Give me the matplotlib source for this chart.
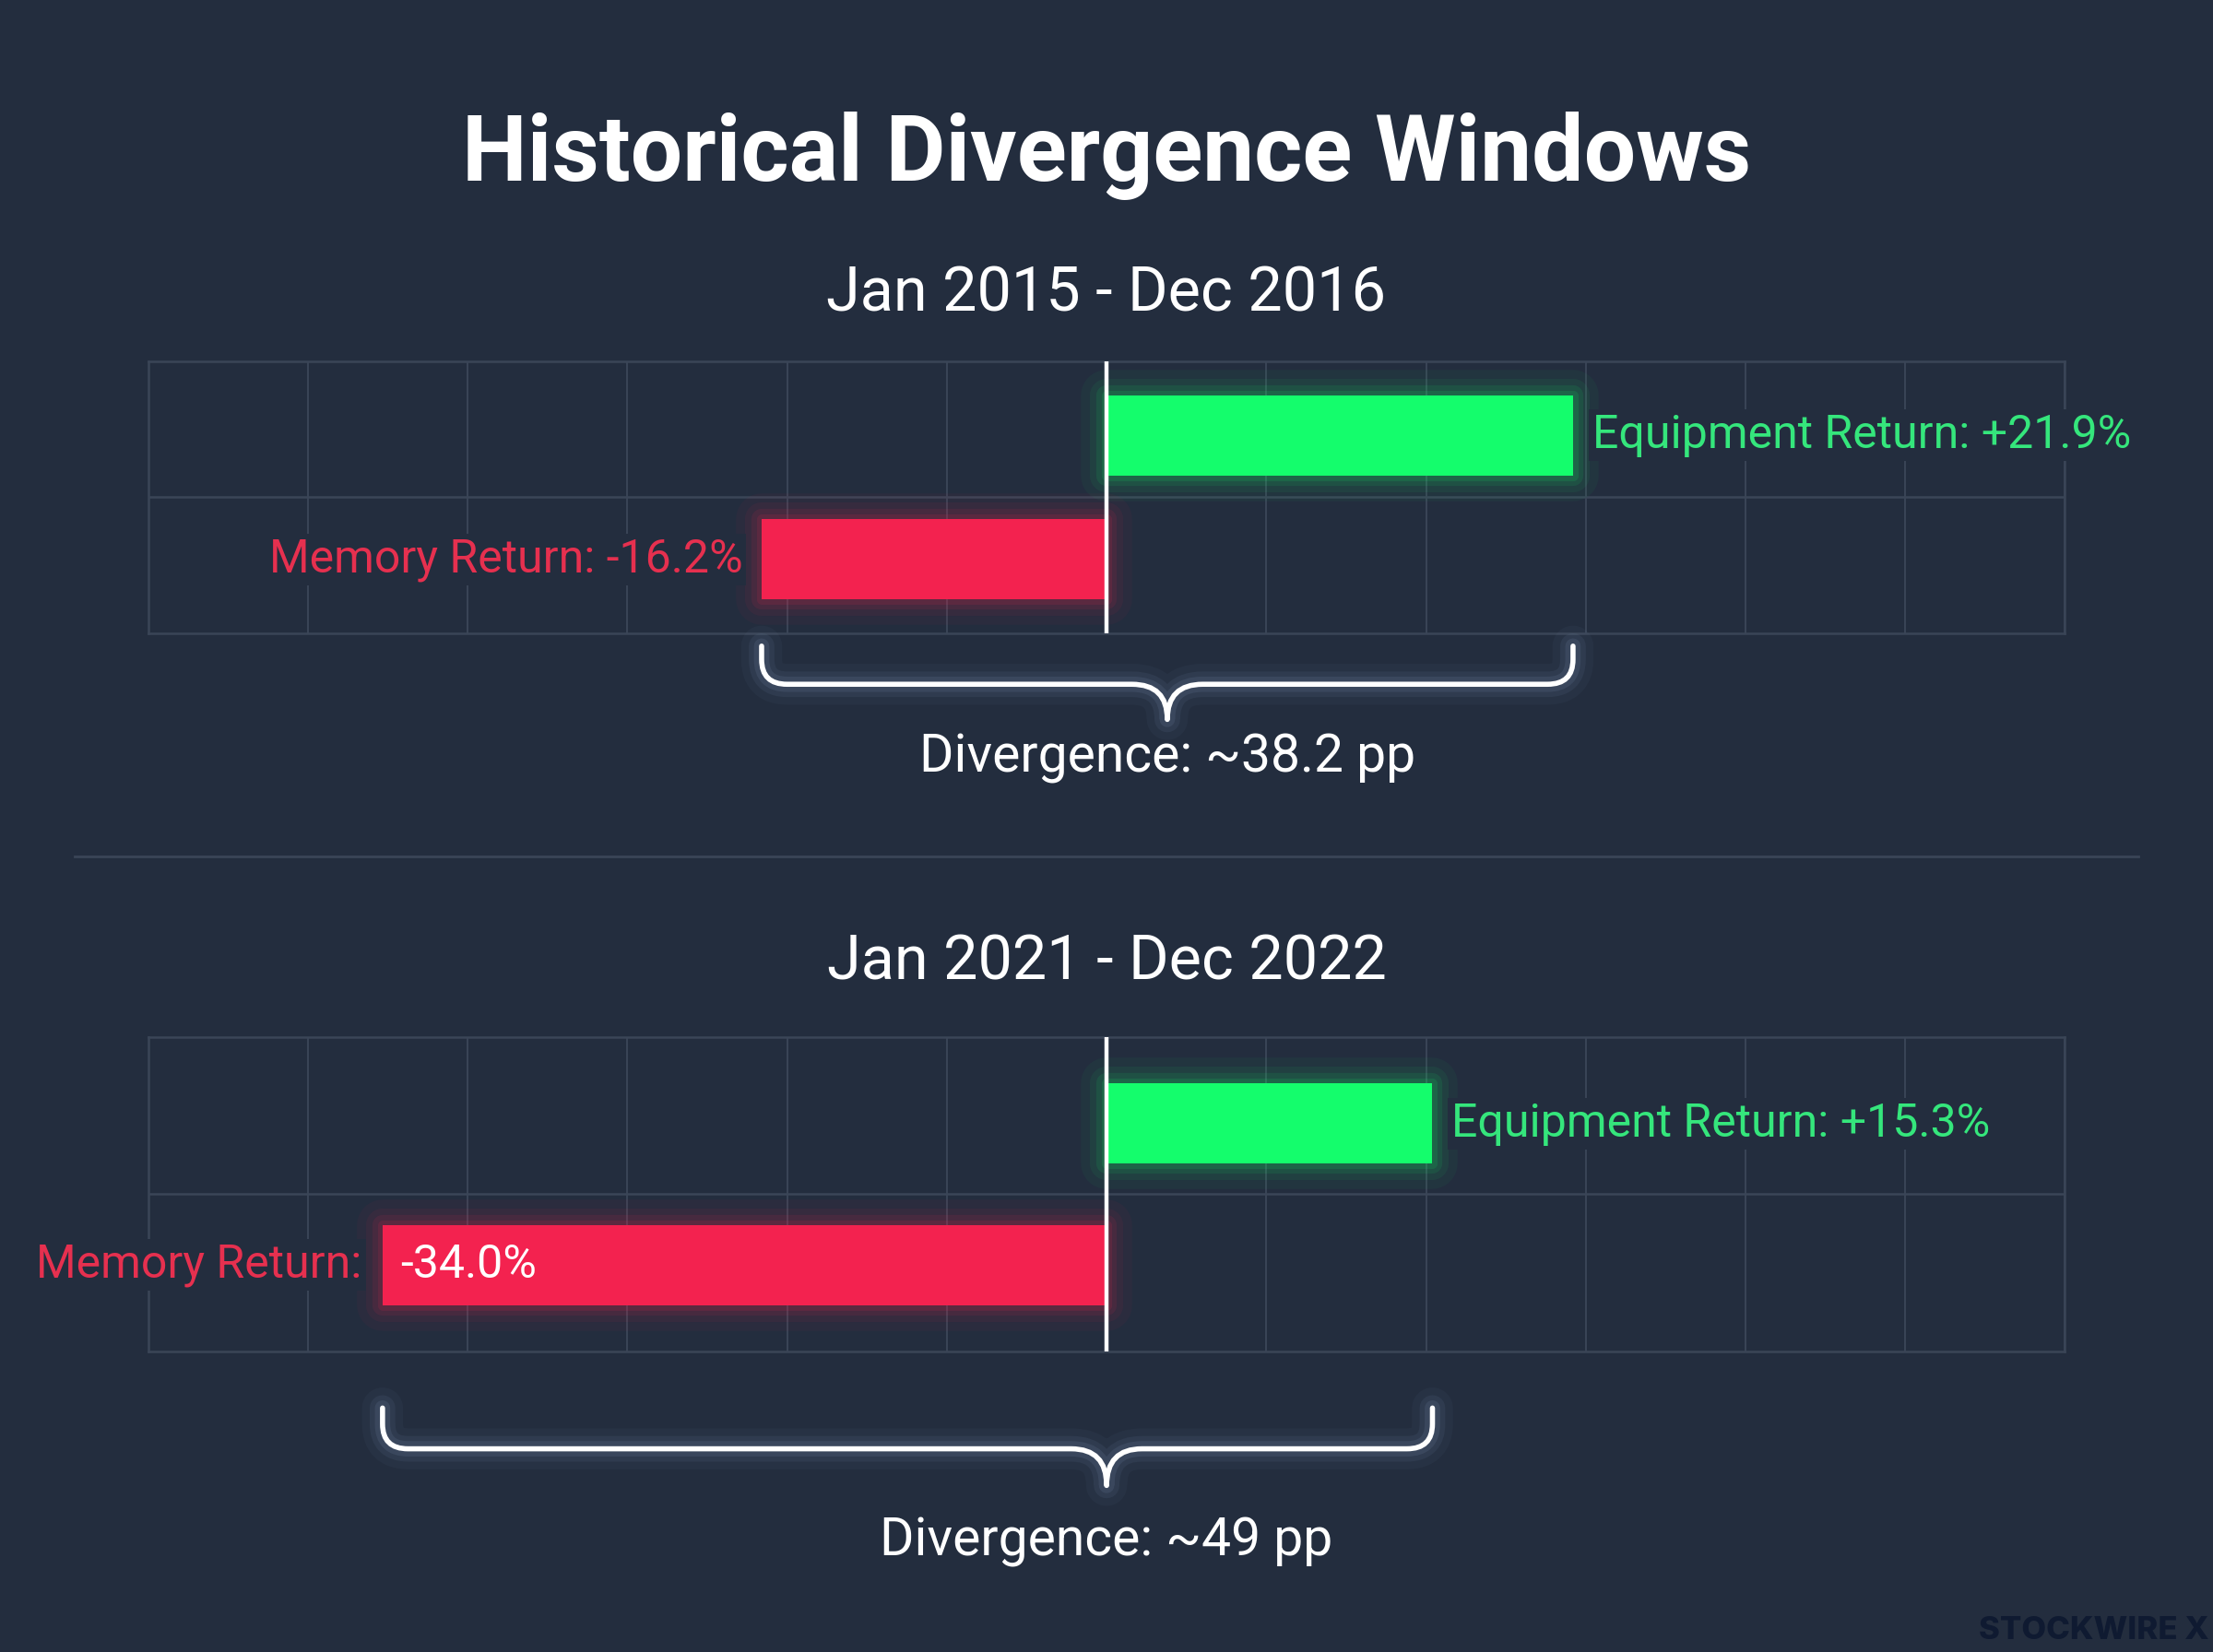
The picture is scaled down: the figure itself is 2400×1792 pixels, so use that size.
import numpy as np
import matplotlib
matplotlib.use("Agg")
import matplotlib.pyplot as plt
from matplotlib.path import Path
from matplotlib.patches import PathPatch
from matplotlib.lines import Line2D

# ---------------- data ----------------
title = "Historical Divergence Windows"
periods = ["Jan 2015 - Dec 2016", "Jan 2021 - Dec 2022"]
series_names = ["Equipment Return", "Memory Return"]
equipment_returns = [21.9, 15.3]
memory_returns = [-16.2, -34.0]
divergence_labels = ["Divergence: ~38.2 pp", "Divergence: ~49 pp"]
memory_value_inside = [False, True]
brace_tip_at_zero = [False, True]
watermark = "STOCKWIRE X"
x_limit = 45
x_step = 7.5

# ---------------- style ----------------
BG = "#232d3e"
GRID = "#3a4557"
GREEN = "#14fd6c"
GREEN_TXT = "#35e67c"
RED = "#f3224f"
RED_TXT = "#e6304f"
WHITE = "#ffffff"
GLOW = "#9bb8e0"

plt.rcParams['font.family'] = ['Roboto', 'DejaVu Sans']

fig = plt.figure(figsize=(12, 8.96), dpi=200, facecolor=BG)

axes_rects = [[0.0670, 0.6166, 0.8661, 0.1648], [0.0670, 0.1819, 0.8661, 0.1904]]
bar_heights = [0.59, 0.51]
bar_inset = [0.045, 0.05]
subtitle_y = [0.8219, 0.4172]
brace_y = [(0.6089, 0.5858, 0.5645), (0.1477, 0.1230, 0.1008)]
div_y = [0.5412, 0.0668]

fig.text(0.5, 0.9056, title, ha='center', va='center', fontsize=36,
         fontweight='bold', color=WHITE)


def draw_brace(ax, x0, x1, xt, ytop, yh, ytip):
    to_fig = ax.transData + fig.transFigure.inverted()
    fx0 = to_fig.transform((x0, 0))[0]
    fx1 = to_fig.transform((x1, 0))[0]
    fxt = to_fig.transform((xt, 0))[0]
    rx, ry = 0.0115, 0.0150
    w = 0.016
    verts = [(fx0, ytop), (fx0, yh + ry), (fx0, yh), (fx0 + rx, yh),
             (fxt - w, yh), (fxt, yh), (fxt, ytip),
             (fxt, yh), (fxt + w, yh),
             (fx1 - rx, yh), (fx1, yh), (fx1, yh + ry), (fx1, ytop)]
    codes = [Path.MOVETO, Path.LINETO, Path.CURVE3, Path.CURVE3,
             Path.LINETO, Path.CURVE3, Path.CURVE3,
             Path.CURVE3, Path.CURVE3,
             Path.LINETO, Path.CURVE3, Path.CURVE3, Path.LINETO]
    path = Path(verts, codes)
    for lw, a in [(16, 0.04), (10, 0.07), (6, 0.10)]:
        fig.add_artist(PathPatch(path, fill=False, edgecolor=GLOW, lw=lw, alpha=a,
                                 transform=fig.transFigure, capstyle='round',
                                 joinstyle='round'))
    fig.add_artist(PathPatch(path, fill=False, edgecolor=WHITE, lw=2.0,
                             transform=fig.transFigure, capstyle='round',
                             joinstyle='round'))


for i in range(2):
    ax = fig.add_axes(axes_rects[i])
    ax.set_facecolor('none')
    ax.set_xlim(-x_limit, x_limit)
    ax.set_ylim(1.5, -0.5)
    ax.set_xticks(np.arange(-x_limit, x_limit + 0.01, x_step))
    ax.set_yticks([])
    ax.grid(axis='x', color=GRID, lw=0.7)
    ax.axhline(0.5, color=GRID, lw=0.9, zorder=0.5)
    ax.tick_params(length=0, labelbottom=False, labelleft=False)
    for s in ax.spines.values():
        s.set_color(GRID)
        s.set_linewidth(0.9)
    ax.set_axisbelow(True)

    vals = [equipment_returns[i], memory_returns[i]]
    ypos = [0 + bar_inset[i], 1 - bar_inset[i]]
    cols = [GREEN, RED]
    h = bar_heights[i]
    for lw, a in [(20, 0.04), (13, 0.06), (8, 0.09), (4, 0.12)]:
        ax.barh(ypos, vals, height=h, color='none', edgecolor=cols,
                linewidth=lw, alpha=a, joinstyle='round', zorder=2)
    ax.barh(ypos, vals, height=h, color=cols, linewidth=0, zorder=3)
    ax.axvline(0, color=WHITE, lw=1.6, zorder=4)

    box = dict(facecolor=BG, edgecolor='none', pad=1.5)
    ax.annotate(f"{series_names[0]}: {vals[0]:+.1f}%", xy=(vals[0], ypos[0]),
                xytext=(7.5, 0), textcoords='offset points', ha='left', va='center',
                color=GREEN_TXT, fontsize=18, bbox=box, zorder=5)
    if memory_value_inside[i]:
        ax.annotate(f"{series_names[1]}:", xy=(vals[1], ypos[1]),
                    xytext=(-8, 0), textcoords='offset points', ha='right', va='center',
                    color=RED_TXT, fontsize=18, bbox=box, zorder=5)
        ax.annotate(f"{vals[1]:+.1f}%", xy=(vals[1], ypos[1]),
                    xytext=(7, 0), textcoords='offset points', ha='left', va='center',
                    color=WHITE, fontsize=18, zorder=5)
    else:
        ax.annotate(f"{series_names[1]}: {vals[1]:+.1f}%", xy=(vals[1], ypos[1]),
                    xytext=(-7.5, 0), textcoords='offset points', ha='right', va='center',
                    color=RED_TXT, fontsize=18, bbox=box, zorder=5)

    fig.text(0.5, subtitle_y[i], periods[i], ha='center', va='center',
             fontsize=24, color=WHITE)

    xt = 0.0 if brace_tip_at_zero[i] else (vals[0] + vals[1]) / 2
    draw_brace(ax, vals[1], vals[0], xt, *brace_y[i])
    fx = (ax.transData + fig.transFigure.inverted()).transform((xt, 0))[0]
    fig.text(fx, div_y[i], divergence_labels[i], ha='center', va='center',
             fontsize=20.5, color=WHITE)

fig.add_artist(Line2D([0.0338, 0.9662], [0.4817, 0.4817], transform=fig.transFigure,
                      color=GRID, lw=1.0))

fig.text(0.998, 0.0128, watermark, ha='right', va='center', fontsize=12.5,
         fontweight='heavy', color='#0f1a31', family=['Inter', 'DejaVu Sans'])

fig.savefig('out.png', dpi=200, facecolor=BG)
